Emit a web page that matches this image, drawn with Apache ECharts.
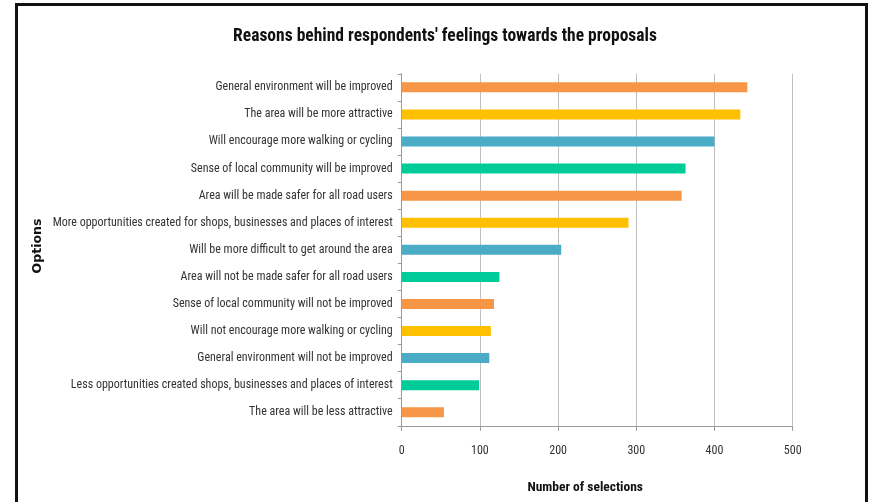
<!DOCTYPE html>
<html>
<head>
<meta charset="utf-8">
<script src="https://cdn.jsdelivr.net/npm/echarts@6/dist/echarts.min.js"></script>
<style>
html,body{margin:0;padding:0;background:#fff;}
#chart{width:870px;height:502px;}
</style>
</head>
<body>
<div id="chart"></div>
<script>
const categories = [
  "General environment will be improved",
  "The area will be more attractive",
  "Will encourage more walking or cycling",
  "Sense of local community will be improved",
  "Area will be made safer for all road users",
  "More opportunities created for shops, businesses and places of interest",
  "Will be more difficult to get around the area",
  "Area will not be made safer for all road users",
  "Sense of local community will not be improved",
  "Will not encourage more walking or cycling",
  "General environment will not be improved",
  "Less opportunities created shops, businesses and places of interest",
  "The area will be less attractive"
];
const values = [442, 433, 400, 363, 358, 290, 204, 125, 118, 114, 112, 99, 54];
const palette = ["#F79646", "#FFC000", "#4BACC6", "#00CC99"];
const xTicks = [0, 100, 200, 300, 400, 500];

const narrow = "'Roboto Condensed', 'Liberation Sans Narrow', sans-serif";
const chart = echarts.init(document.getElementById('chart'), null, {renderer: 'canvas'});
chart.setOption({
  backgroundColor: '#fff',
  animation: false,
  title: {
    text: "Reasons behind respondents' feelings towards the proposals",
    left: 440, top: 23, textAlign: 'center',
    textStyle: {fontFamily: narrow, fontWeight: 'bold', fontSize: 17.5, color: '#111'}
  },
  graphic: [
    {type: 'rect', shape: {x: 16.5, y: 4.5, width: 850, height: 520}, style: {fill: 'none', stroke: '#111', lineWidth: 3}, z: 100},
    {type: 'text', x: 38, y: 246, rotation: Math.PI / 2,
     style: {text: 'Options', fontFamily: "'DejaVu Sans', sans-serif", fontWeight: 'bold', fontSize: 12.5, fill: '#111', align: 'center', verticalAlign: 'middle'}}
  ],
  grid: {left: 401.7, right: 77.3, top: 73.8, bottom: 76.2, containLabel: false, outerBoundsMode: 'none'},
  xAxis: {
    type: 'value', min: 0, max: 500, interval: 100,
    name: 'Number of selections', nameLocation: 'middle', nameGap: 55,
    nameTextStyle: {fontFamily: narrow, fontWeight: 'bold', fontSize: 13.5, color: '#111', padding: [0, 24, 0, 0]},
    axisLine: {show: true, lineStyle: {color: '#9a9a9a', width: 1}},
    axisTick: {show: true, length: 5, lineStyle: {color: '#9a9a9a'}},
    axisLabel: {margin: 19, fontFamily: narrow, fontSize: 12, color: '#333',
      formatter: v => xTicks.includes(v) ? String(v) : ''},
    splitLine: {show: true, lineStyle: {color: '#c0c0c0', width: 1}}
  },
  yAxis: {
    type: 'category', data: categories, inverse: true,
    axisLine: {show: true, lineStyle: {color: '#9a9a9a', width: 1}},
    axisTick: {show: true, length: 4, lineStyle: {color: '#9a9a9a'}},
    axisLabel: {margin: 9, fontFamily: narrow, fontSize: 12, color: '#333'}
  },
  series: [{
    type: 'bar', barWidth: 10,
    data: values.map((v, i) => ({value: v, itemStyle: {color: palette[i % 4]}}))
  }]
});
</script>
</body>
</html>
